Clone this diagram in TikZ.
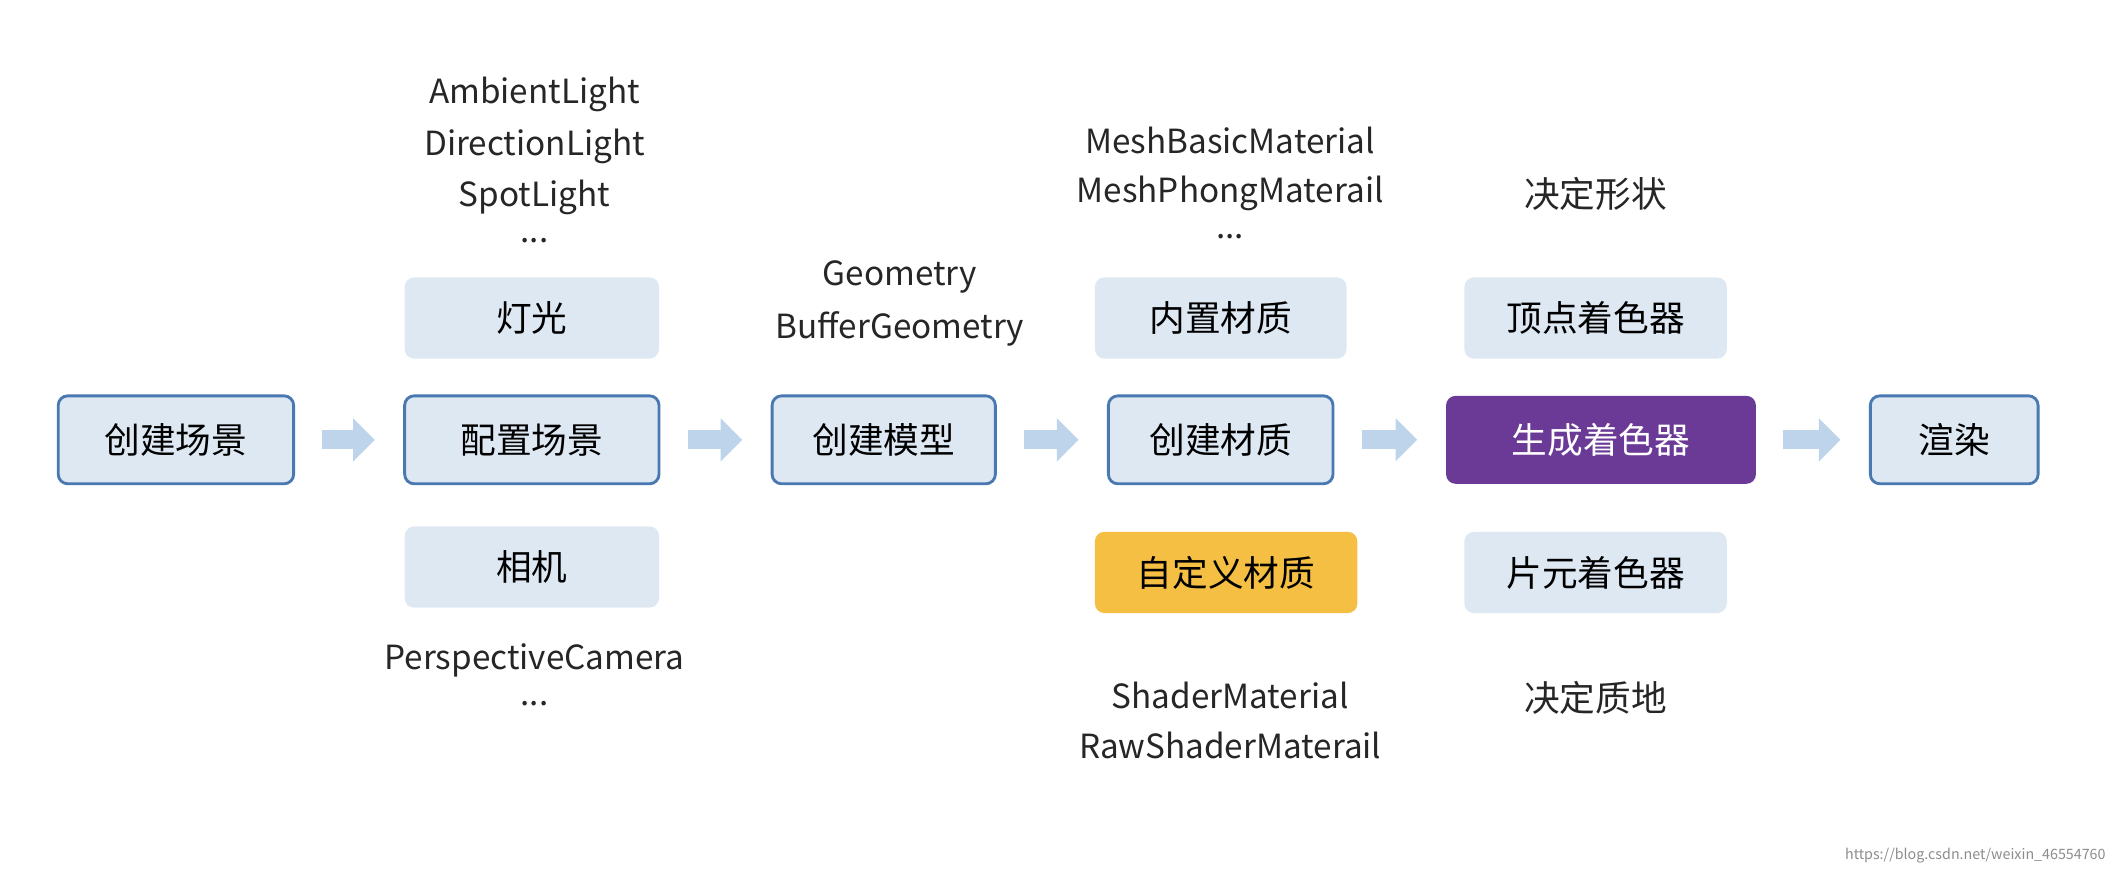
\documentclass[tikz,border=0pt]{standalone}
\usepackage{fontspec}
\setmainfont{Noto Sans CJK SC}
\usetikzlibrary{arrows.meta}
\definecolor{boxfill}{HTML}{DEE8F3}
\definecolor{boxline}{HTML}{4A78B0}
\definecolor{arr}{HTML}{BDD4EA}
\definecolor{purp}{HTML}{6B3A96}
\definecolor{gold}{HTML}{F4BF42}
\begin{document}
\begin{tikzpicture}[x=0.02cm,y=-0.02cm,
  base/.style={rounded corners=4pt,inner sep=0pt,minimum height=1.3cm,font=\fontsize{15}{18}\selectfont},
  main/.style={base,fill=boxfill,draw=boxline,line width=1.2pt},
  side/.style={base,fill=boxfill,minimum height=1.2cm},
  lbl/.style={font=\fontsize{14}{17}\selectfont,text=black!85},
  cn/.style={font=\fontsize{15}{18}\selectfont,text=black!85},
  flow/.style={arr,line width=0.28cm,-{Triangle[length=0.32cm,width=0.62cm]},shorten <=0.4cm,shorten >=0.42cm}]
\useasboundingbox (0,0) rectangle (1568,644);
\node[main,minimum width=3.48cm] (a) at (130,325) {创建场景};
\node[main,minimum width=3.76cm] (b) at (393,325) {配置场景};
\node[main,minimum width=3.3cm] (c) at (653,325) {创建模型};
\node[main,minimum width=3.32cm] (d) at (902,325) {创建材质};
\node[base,fill=purp,text=white,minimum width=4.58cm] (e) at (1183,325) {生成着色器};
\node[main,minimum width=2.48cm] (f) at (1444,325) {渲染};
\node[side,minimum width=3.76cm] (b1) at (393,235) {灯光};
\node[side,minimum width=3.76cm] (b2) at (393,419) {相机};
\node[side,minimum width=3.72cm] (d1) at (902,235) {内置材质};
\node[side,fill=gold,minimum width=3.88cm] (d2) at (906,423) {自定义材质};
\node[side,minimum width=3.88cm] (e1) at (1179,235) {顶点着色器};
\node[side,minimum width=3.88cm] (e2) at (1179,423) {片元着色器};
\foreach \u/\v in {a/b,b/c,c/d,d/e,e/f} \draw[flow] (\u) -- (\v);
\node[lbl] (t1) at (395,70) {AmbientLight};
\node[lbl] (t2) at (395,108) {DirectionLight};
\node[lbl] (t3) at (395,146) {SpotLight};
\node[lbl] (t4) at (395,178) {...};
\node[lbl] (t5) at (665,205) {Geometry};
\node[lbl] (t6) at (665,243) {BufferGeometry};
\node[lbl] (t7) at (909,104) {MeshBasicMaterial};
\node[lbl] (t8) at (909,143) {MeshPhongMaterail};
\node[lbl] (t9) at (909,175) {...};
\node[cn] (t10) at (1179,143) {决定形状};
\node[lbl] (t11) at (395,488) {PerspectiveCamera};
\node[lbl] (t12) at (395,520) {...};
\node[lbl] (t13) at (909,514) {ShaderMaterial};
\node[lbl] (t14) at (909,551) {RawShaderMaterail};
\node[cn] (t15) at (1179,516) {决定质地};
\node[font=\fontsize{6}{7}\selectfont,text=black!45,anchor=east] (w) at (1562,632) {https://blog.csdn.net/weixin\_46554760};
\end{tikzpicture}
\end{document}
